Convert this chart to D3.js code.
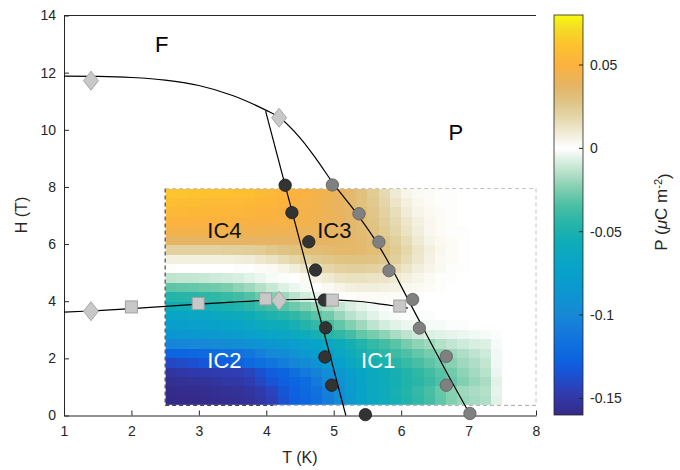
<!DOCTYPE html>
<html>
<head>
<meta charset="utf-8">
<script src="https://cdn.jsdelivr.net/npm/d3@7"></script>
<style>
  body { margin: 0; background: #fff; }
  svg text { font-family: "Liberation Sans", Arial, Helvetica, sans-serif; }
</style>
</head>
<body>
<svg id="chart" width="680" height="470"></svg>
<script>
// ---- data -----------------------------------------------------------------
// cell centres of the polarization map
const temperature = [2.583, 2.750, 2.917, 3.083, 3.250, 3.417, 3.583, 3.750, 3.917, 4.083,
                     4.250, 4.417, 4.583, 4.750, 4.917, 5.083, 5.250, 5.417, 5.583, 5.750,
                     5.917, 6.083, 6.250, 6.417, 6.583, 6.750, 6.917, 7.083, 7.250, 7.417];
const field = [7.78, 7.45, 7.12, 6.79, 6.46, 6.13, 5.80, 5.47, 5.14, 4.81, 4.48, 4.15,
               3.82, 3.49, 3.16, 2.83, 2.50, 2.17, 1.84, 1.51, 1.18, 0.85, 0.52];
// polarization in units of 1e-3 µC m^-2, one row per field value, one column per temperature
const polarization = [
  [63,63,62,62,61,61,60,59,57,55,53,51,49,46,43,40,35,30,24,17,10,5,3,2,1,1,0,0,0,0],
  [59,58,58,57,57,56,56,55,54,53,51,49,47,45,42,39,35,30,25,19,12,7,4,2,1,1,0,0,0,0],
  [55,55,54,54,54,53,53,52,51,50,49,47,46,44,42,39,36,32,27,21,15,9,5,3,2,1,0,0,0,0],
  [51,51,51,50,50,50,49,49,48,48,47,46,45,43,41,39,36,33,28,23,17,11,7,4,2,1,0,0,0,0],
  [46,46,46,46,45,45,45,44,44,43,43,42,41,40,39,38,36,33,29,24,19,13,8,4,2,1,1,0,0,0],
  [38,38,38,38,38,38,38,38,38,38,38,38,38,38,38,37,36,34,31,27,22,16,10,5,3,2,1,0,0,0],
  [21,21,21,21,21,22,22,23,24,26,28,30,32,33,34,35,35,34,32,29,24,18,12,7,4,2,1,0,0,0],
  [7,7,7,7,7,7,8,9,11,13,16,19,22,25,27,28,29,29,28,26,22,16,11,6,3,2,1,0,0,0],
  [1,0,0,0,0,0,1,1,2,3,5,8,12,15,19,21,22,22,21,19,16,12,8,5,3,1,1,0,0,0],
  [-13,-12,-12,-11,-10,-9,-8,-6,-4,-2,-1,0,3,6,10,13,14,14,13,12,10,7,5,3,1,1,0,0,0,0],
  [-31,-30,-29,-28,-27,-25,-22,-19,-15,-11,-7,-4,-2,0,3,5,7,8,8,7,6,4,3,2,1,0,0,0,0,0],
  [-46,-45,-44,-43,-42,-40,-37,-33,-28,-24,-19,-14,-9,-5,-2,0,1,2,2,2,2,1,1,0,0,0,0,0,0,0],
  [-56,-55,-54,-53,-52,-50,-48,-44,-40,-36,-32,-28,-24,-20,-16,-12,-8,-5,-3,-1,0,0,0,0,0,0,0,0,0,0],
  [-69,-68,-67,-66,-64,-62,-60,-56,-52,-49,-46,-42,-37,-32,-27,-20,-14,-10,-6,-3,-2,-1,-1,-1,0,0,0,0,0,0],
  [-77,-76,-75,-74,-72,-70,-68,-65,-61,-58,-56,-52,-47,-41,-36,-30,-24,-19,-13,-9,-6,-4,-3,-2,-2,-1,-1,0,0,0],
  [-87,-86,-85,-84,-82,-80,-78,-75,-71,-68,-66,-63,-58,-52,-46,-42,-36,-30,-26,-22,-17,-13,-10,-7,-6,-5,-4,-3,-2,-1],
  [-102,-101,-100,-99,-98,-96,-94,-92,-90,-86,-82,-79,-75,-70,-66,-60,-53,-47,-41,-36,-32,-26,-22,-19,-15,-12,-10,-8,-7,-2],
  [-126,-125,-124,-122,-120,-118,-116,-112,-106,-100,-96,-90,-84,-78,-72,-66,-58,-52,-47,-43,-38,-34,-30,-26,-23,-19,-16,-13,-10,-3],
  [-141,-139,-136,-133,-131,-129,-126,-122,-118,-114,-108,-102,-96,-90,-82,-75,-66,-59,-53,-49,-44,-40,-35,-31,-27,-23,-19,-16,-12,-3],
  [-152,-150,-149,-148,-147,-146,-145,-142,-136,-130,-126,-118,-110,-104,-94,-86,-76,-68,-62,-57,-52,-47,-42,-37,-32,-27,-22,-18,-14,-4],
  [-156,-155,-154,-153,-152,-151,-150,-147,-141,-134,-128,-125,-120,-110,-100,-90,-80,-70,-63,-58,-53,-48,-44,-39,-34,-29,-24,-20,-17,-6],
  [-159,-158,-158,-157,-156,-155,-154,-152,-148,-142,-134,-127,-122,-116,-106,-94,-80,-70,-63,-58,-52,-47,-41,-35,-29,-23,-19,-17,-15,-5],
  [-161,-160,-160,-159,-158,-157,-156,-154,-151,-145,-136,-128,-124,-118,-108,-96,-82,-71,-64,-59,-53,-48,-42,-36,-30,-24,-20,-18,-16,-6]
];
const polarizationUnit = 1e-3;

// measurement window of the map (T from..to, H from..to)
const scanT = [2.5, 8.0];
const scanH = [0.355, 7.945];

// phase boundaries (T, H)
const boundaryF = [[1.0,11.88],[1.5,11.87],[2.0,11.83],[2.5,11.74],[3.0,11.55],[3.5,11.2],
                   [4.0,10.68],[4.2,10.42],[4.5,9.72],[4.75,8.95],[5.0,8.1],[5.3,7.2],
                   [5.6,6.2],[5.85,5.2],[6.05,4.3],[6.25,3.4],[6.45,2.5],[6.7,1.4],[7.03,0.0]];
const boundaryIC = [[3.99,10.65],[5.18,0.0]];
const boundaryLow = [[1.0,3.62],[1.5,3.67],[2.0,3.74],[2.5,3.82],[3.0,3.9],[3.5,3.97],
                     [4.0,4.03],[4.5,4.06],[5.0,4.05],[5.4,3.99],[5.7,3.9],[6.0,3.8],[6.1,3.76]];

// transition points
const diamondPts   = [[1.40,11.72],[4.19,10.42],[1.40,3.65],[4.19,4.02]];
const squarePts    = [[2.00,3.80],[2.99,3.92],[3.99,4.08],[4.98,4.04],[5.98,3.83]];
const darkCircles  = [[4.28,8.06],[4.38,7.10],[4.63,6.08],[4.73,5.09],[4.86,4.04],
                      [4.88,3.07],[4.87,2.05],[4.97,1.06],[5.47,0.03]];
const grayCircles  = [[4.98,8.07],[5.375,7.06],[5.67,6.07],[5.82,5.07],[6.17,4.06],
                      [6.27,3.06],[6.67,2.07],[6.67,1.06],[7.02,0.07]];

// phase names
const phaseNames  = ["F", "P", "IC4", "IC3", "IC2", "IC1"];
const phaseT      = [2.45, 6.81, 3.38, 5.01, 3.38, 5.66];
const phaseH      = [12.72, 9.64, 6.23, 6.2, 1.66, 1.66];
const phaseColors = ["#000", "#000", "#111", "#111", "#fff", "#fff"];

// axes
const xTicks = [1, 2, 3, 4, 5, 6, 7, 8];
const yTicks = [0, 2, 4, 6, 8, 10, 12, 14];
const cbTicks = [0.05, 0, -0.05, -0.1, -0.15];
const cbTickLabels = ["0.05", "0", "-0.05", "-0.1", "-0.15"];
const cbRange = [-0.16, 0.08];

// colour map: value -> colour
const cmapValues = [-0.16, -0.145, -0.132, -0.125, -0.11, -0.1, -0.085, -0.07, -0.055, -0.045,
                    -0.035, -0.025, -0.015, -0.007, 0, 0.008, 0.018, 0.028, 0.038, 0.05, 0.062, 0.072, 0.08];
const cmapColors = ["#352a87", "#2e3fb5", "#1259dc", "#0c66e0", "#1479dc", "#1688d6", "#0b98d0",
                    "#08a4c8", "#10adb6", "#26b5a8", "#48bea4", "#7ccdae", "#b4e0c8", "#dcf0e4",
                    "#ffffff", "#f2eedc", "#e4d8ac", "#dfc484", "#e6b462", "#fbb23e", "#fdc22e",
                    "#f4dc24", "#f8fa0e"];

// ---- drawing --------------------------------------------------------------
const svg = d3.select("#chart");
const ink = "#262626";

const x = d3.scaleLinear().domain([1, 8]).range([64, 536]);
const y = d3.scaleLinear().domain([0, 14]).range([415.5, 15.5]);
const color = d3.scaleLinear().domain(cmapValues).range(cmapColors)
  .interpolate(d3.interpolateRgb).clamp(true);

// cell edges from the centres
function edges(c) {
  const e = [];
  for (let i = 0; i <= c.length; i++) {
    if (i === 0) e.push(c[0] - (c[1] - c[0]) / 2);
    else if (i === c.length) e.push(c[i - 1] + (c[i - 1] - c[i - 2]) / 2);
    else e.push((c[i - 1] + c[i]) / 2);
  }
  return e;
}
const tEdge = edges(temperature);
const hEdge = edges(field);

const cells = [];
polarization.forEach((row, i) => row.forEach((v, j) => {
  cells.push({ t0: tEdge[j], t1: tEdge[j + 1], h0: hEdge[i], h1: hEdge[i + 1], p: v * polarizationUnit });
}));

const map = svg.append("g").attr("shape-rendering", "crispEdges");
map.selectAll("rect").data(cells).join("rect")
  .attr("x", d => Math.round(x(d.t0)))
  .attr("width", d => Math.round(x(d.t1)) - Math.round(x(d.t0)))
  .attr("y", d => Math.round(Math.min(y(d.h0), y(d.h1))))
  .attr("height", d => Math.round(Math.max(y(d.h0), y(d.h1))) - Math.round(Math.min(y(d.h0), y(d.h1))))
  .attr("fill", d => color(d.p));

// dashed frame of the measured window
const fx0 = x(scanT[0]), fx1 = x(scanT[1]), fy0 = y(scanH[1]), fy1 = y(scanH[0]);
const frameSides = [
  { x1: fx0, y1: fy0, x2: fx0, y2: fy1, c: "#222" },
  { x1: fx0, y1: fy1, x2: x(4.1), y2: fy1, c: "#222" },
  { x1: x(4.1), y1: fy1, x2: fx1, y2: fy1, c: "#a8a8a8" },
  { x1: fx0, y1: fy0, x2: fx1, y2: fy0, c: "#c4c4c4" },
  { x1: fx1, y1: fy0, x2: fx1, y2: fy1, c: "#c4c4c4" }
];
const frame = svg.append("g");
frame.selectAll("line.base").data(frameSides).join("line").attr("class", "base")
  .attr("x1", d => d.x1).attr("y1", d => d.y1).attr("x2", d => d.x2).attr("y2", d => d.y2)
  .attr("stroke", "#fff").attr("stroke-width", 1);
frame.selectAll("line.dash").data(frameSides).join("line").attr("class", "dash")
  .attr("x1", d => d.x1).attr("y1", d => d.y1).attr("x2", d => d.x2).attr("y2", d => d.y2)
  .attr("stroke", d => d.c).attr("stroke-width", 1).attr("stroke-dasharray", "4,3");

// axes
const xAxis = d3.axisBottom(x).tickValues(xTicks).tickFormat(d3.format("d"))
  .tickSizeInner(-5).tickSizeOuter(0).tickPadding(11);
const yAxis = d3.axisLeft(y).tickValues(yTicks).tickFormat(d3.format("d"))
  .tickSizeInner(-5).tickSizeOuter(0).tickPadding(8);

const gx = svg.append("g").attr("transform", "translate(0,415.5)").call(xAxis);
const gy = svg.append("g").attr("transform", "translate(64,0)").call(yAxis);
[gx, gy].forEach(g => {
  g.select(".domain").attr("stroke", ink);
  g.selectAll(".tick line").attr("stroke", ink);
  g.selectAll(".tick text").attr("fill", ink).style("font-size", "14px")
    .style("font-family", '"Liberation Sans", Arial, sans-serif');
});
svg.append("line").attr("x1", 64).attr("x2", 536).attr("y1", 15.5).attr("y2", 15.5)
  .attr("stroke", ink);

svg.append("text").attr("x", 300).attr("y", 463).attr("text-anchor", "middle")
  .attr("fill", ink).style("font-size", "16px").text("T (K)");
svg.append("text").attr("transform", "translate(27,215) rotate(-90)").attr("text-anchor", "middle")
  .attr("fill", ink).style("font-size", "16px").text("H (T)");

// boundaries
const line = d3.line().x(d => x(d[0])).y(d => y(d[1]));
svg.append("path").datum(boundaryF).attr("d", line.curve(d3.curveCatmullRom.alpha(0.5)))
  .attr("fill", "none").attr("stroke", "#000").attr("stroke-width", 1.2);
svg.append("path").datum(boundaryLow).attr("d", line.curve(d3.curveCatmullRom.alpha(0.5)))
  .attr("fill", "none").attr("stroke", "#000").attr("stroke-width", 1.2);
svg.append("path").datum(boundaryIC).attr("d", d3.line().x(d => x(d[0])).y(d => y(d[1])))
  .attr("fill", "none").attr("stroke", "#000").attr("stroke-width", 1.2);

// markers
svg.append("g").selectAll("circle").data(darkCircles).join("circle")
  .attr("cx", d => x(d[0])).attr("cy", d => y(d[1])).attr("r", 6.2)
  .attr("fill", "#333").attr("stroke", "#1a1a1a").attr("stroke-width", 0.8);
svg.append("g").selectAll("circle").data(grayCircles).join("circle")
  .attr("cx", d => x(d[0])).attr("cy", d => y(d[1])).attr("r", 6.2)
  .attr("fill", "#808080").attr("stroke", "#5c5c5c").attr("stroke-width", 0.8);
svg.append("g").selectAll("rect").data(squarePts).join("rect")
  .attr("x", d => x(d[0]) - 6).attr("y", d => y(d[1]) - 6).attr("width", 12).attr("height", 12)
  .attr("fill", "#c8c8c8").attr("stroke", "#a0a0a0").attr("stroke-width", 1);
svg.append("g").selectAll("path").data(diamondPts).join("path")
  .attr("d", d => {
    const cx = x(d[0]), cy = y(d[1]);
    return `M${cx},${cy - 9.5}L${cx + 7.5},${cy}L${cx},${cy + 9.5}L${cx - 7.5},${cy}Z`;
  })
  .attr("fill", "#c8c8c8").attr("stroke", "#a8a8a8").attr("stroke-width", 1);

// phase names
svg.append("g").selectAll("text").data(phaseNames).join("text")
  .attr("x", (d, i) => x(phaseT[i])).attr("y", (d, i) => y(phaseH[i]))
  .attr("text-anchor", "middle").attr("fill", (d, i) => phaseColors[i])
  .style("font-size", "22px").text(d => d);

// colour bar
const cb = { x: 554, w: 29 };
const cy = d3.scaleLinear().domain(cbRange).range([415, 15]);
const defs = svg.append("defs");
const grad = defs.append("linearGradient").attr("id", "cbGrad")
  .attr("x1", 0).attr("y1", 1).attr("x2", 0).attr("y2", 0);
cmapValues.forEach((v, i) => {
  grad.append("stop").attr("offset", (v - cbRange[0]) / (cbRange[1] - cbRange[0]))
    .attr("stop-color", cmapColors[i]);
});
svg.append("rect").attr("x", cb.x).attr("y", 15).attr("width", cb.w).attr("height", 400)
  .attr("fill", "url(#cbGrad)").attr("stroke", ink).attr("stroke-width", 0.8);
const cbAxis = svg.append("g");
cbTicks.forEach((v, i) => {
  cbAxis.append("line").attr("x1", cb.x + cb.w).attr("x2", cb.x + cb.w - 4)
    .attr("y1", cy(v)).attr("y2", cy(v)).attr("stroke", ink);
  cbAxis.append("text").attr("x", cb.x + cb.w + 7).attr("y", cy(v)).attr("dy", "0.35em")
    .attr("fill", ink).style("font-size", "14px").text(cbTickLabels[i]);
});
const cbLabel = svg.append("text").attr("transform", "translate(667,212) rotate(-90)")
  .attr("text-anchor", "middle").attr("fill", ink).style("font-size", "17px");
cbLabel.append("tspan").text("P (");
cbLabel.append("tspan").style("font-style", "italic").text("\u03bc");
cbLabel.append("tspan").text("C m");
cbLabel.append("tspan").attr("dy", "-0.45em").style("font-size", "11px").text("-2");
cbLabel.append("tspan").attr("dy", "0.45em").text(")");
</script>
</body>
</html>
